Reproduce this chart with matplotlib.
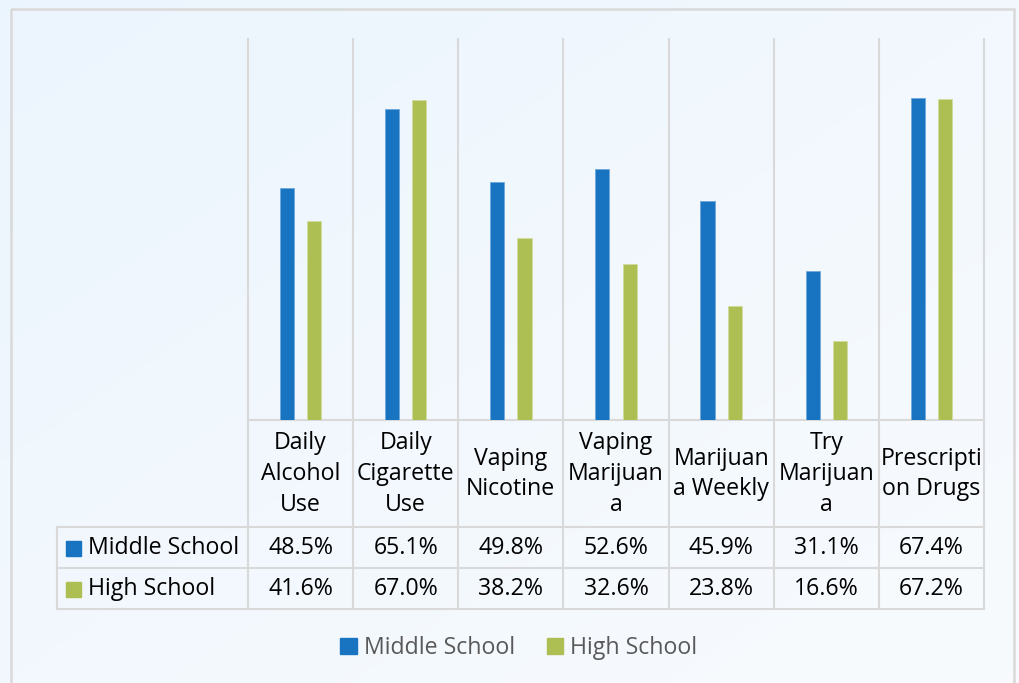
import numpy as np
import matplotlib.pyplot as plt
from matplotlib.patches import Rectangle, Patch
from matplotlib import transforms

plt.rcParams['font.family'] = ['Open Sans', 'DejaVu Sans']

categories = ['Daily\nAlcohol\nUse', 'Daily\nCigarette\nUse', 'Vaping\nNicotine',
              'Vaping\nMarijuan\na', 'Marijuan\na Weekly', 'Try\nMarijuan\na',
              'Prescripti\non Drugs']
series_names = ['Middle School', 'High School']
middle = [48.5, 65.1, 49.8, 52.6, 45.9, 31.1, 67.4]
high = [41.6, 67.0, 38.2, 32.6, 23.8, 16.6, 67.2]
colors = ['#1874C1', '#ADBF52']
grid_c = '#D9D9D9'

W, H = 1019, 683
fig = plt.figure(figsize=(W / 100, H / 100), dpi=100)

# background / frame layer in pixel coordinates
bg = fig.add_axes([0, 0, 1, 1])
bg.set_xlim(0, W)
bg.set_ylim(H, 0)
bg.axis('off')
xx, yy = np.meshgrid(np.linspace(0, 1, 200), np.linspace(0, 1, 200))
g = (xx + yy) / 2
c0 = np.array([0.925, 0.961, 0.996])
c1 = np.array([0.973, 0.984, 0.996])
img = c0[None, None, :] * (1 - g[..., None]) + c1[None, None, :] * g[..., None]
bg.imshow(img, extent=[0, W, H, 0], aspect='auto', zorder=0)
bg.add_patch(Rectangle((11, 9), 1003, 700, fill=False, ec=grid_c, lw=1.8, zorder=1))

# bar axes
px_l, px_r, px_t, px_b = 248, 984, 38, 420
ax = fig.add_axes([px_l / W, 1 - px_b / H, (px_r - px_l) / W, (px_b - px_t) / H])
ax.patch.set_alpha(0)
x = np.arange(len(categories))
bw = 0.135
off = 0.13
ax.bar(x - off, middle, bw, color=colors[0], edgecolor='#6FA8DC', lw=0.6, zorder=3)
ax.bar(x + off, high, bw, color=colors[1], edgecolor='#D2DC9E', lw=0.6, zorder=3)
ax.set_xlim(-0.5, len(categories) - 0.5)
ax.set_ylim(0, 80)
ax.axis('off')

# table lines
tr = transforms.blended_transform_factory(ax.transData, bg.transData)
for b in np.arange(len(categories) + 1) - 0.5:
    bg.plot([b, b], [px_t, 609], color=grid_c, lw=1.5, transform=tr, zorder=2,
            solid_capstyle='butt')
bg.plot([px_l, px_r], [px_b, px_b], color=grid_c, lw=1.5, zorder=2)
for yl in [527, 568, 609]:
    bg.plot([57, px_r], [yl, yl], color=grid_c, lw=1.5, zorder=2)
bg.plot([57, 57], [527, 609], color=grid_c, lw=1.5, zorder=2)

fs = 16.7
for i, cat in enumerate(categories):
    bg.text(i, 474, cat, transform=tr, ha='center', va='center', fontsize=fs,
            linespacing=1.38, color='black', zorder=4)
for row, (name, vals, col) in enumerate(zip(series_names, [middle, high], colors)):
    yc = 548 + row * 41
    bg.add_patch(Rectangle((66, yc - 7.5), 15, 15, color=col, zorder=4))
    bg.text(88, yc, name, ha='left', va='center', fontsize=fs, color='black', zorder=4)
    for i, v in enumerate(vals):
        bg.text(i, yc, f'{v:.1f}%', transform=tr, ha='center', va='center',
                fontsize=fs, color='black', zorder=4)

handles = [Patch(color=c) for c in colors]
fig.legend(handles, series_names, loc='center', bbox_to_anchor=(519 / W, 1 - 648 / H),
           ncol=2, frameon=False, fontsize=fs, handlelength=0.7, handleheight=0.7,
           handletextpad=0.3, columnspacing=1.4, labelcolor='#595959')

fig.savefig('out.png', dpi=100)
